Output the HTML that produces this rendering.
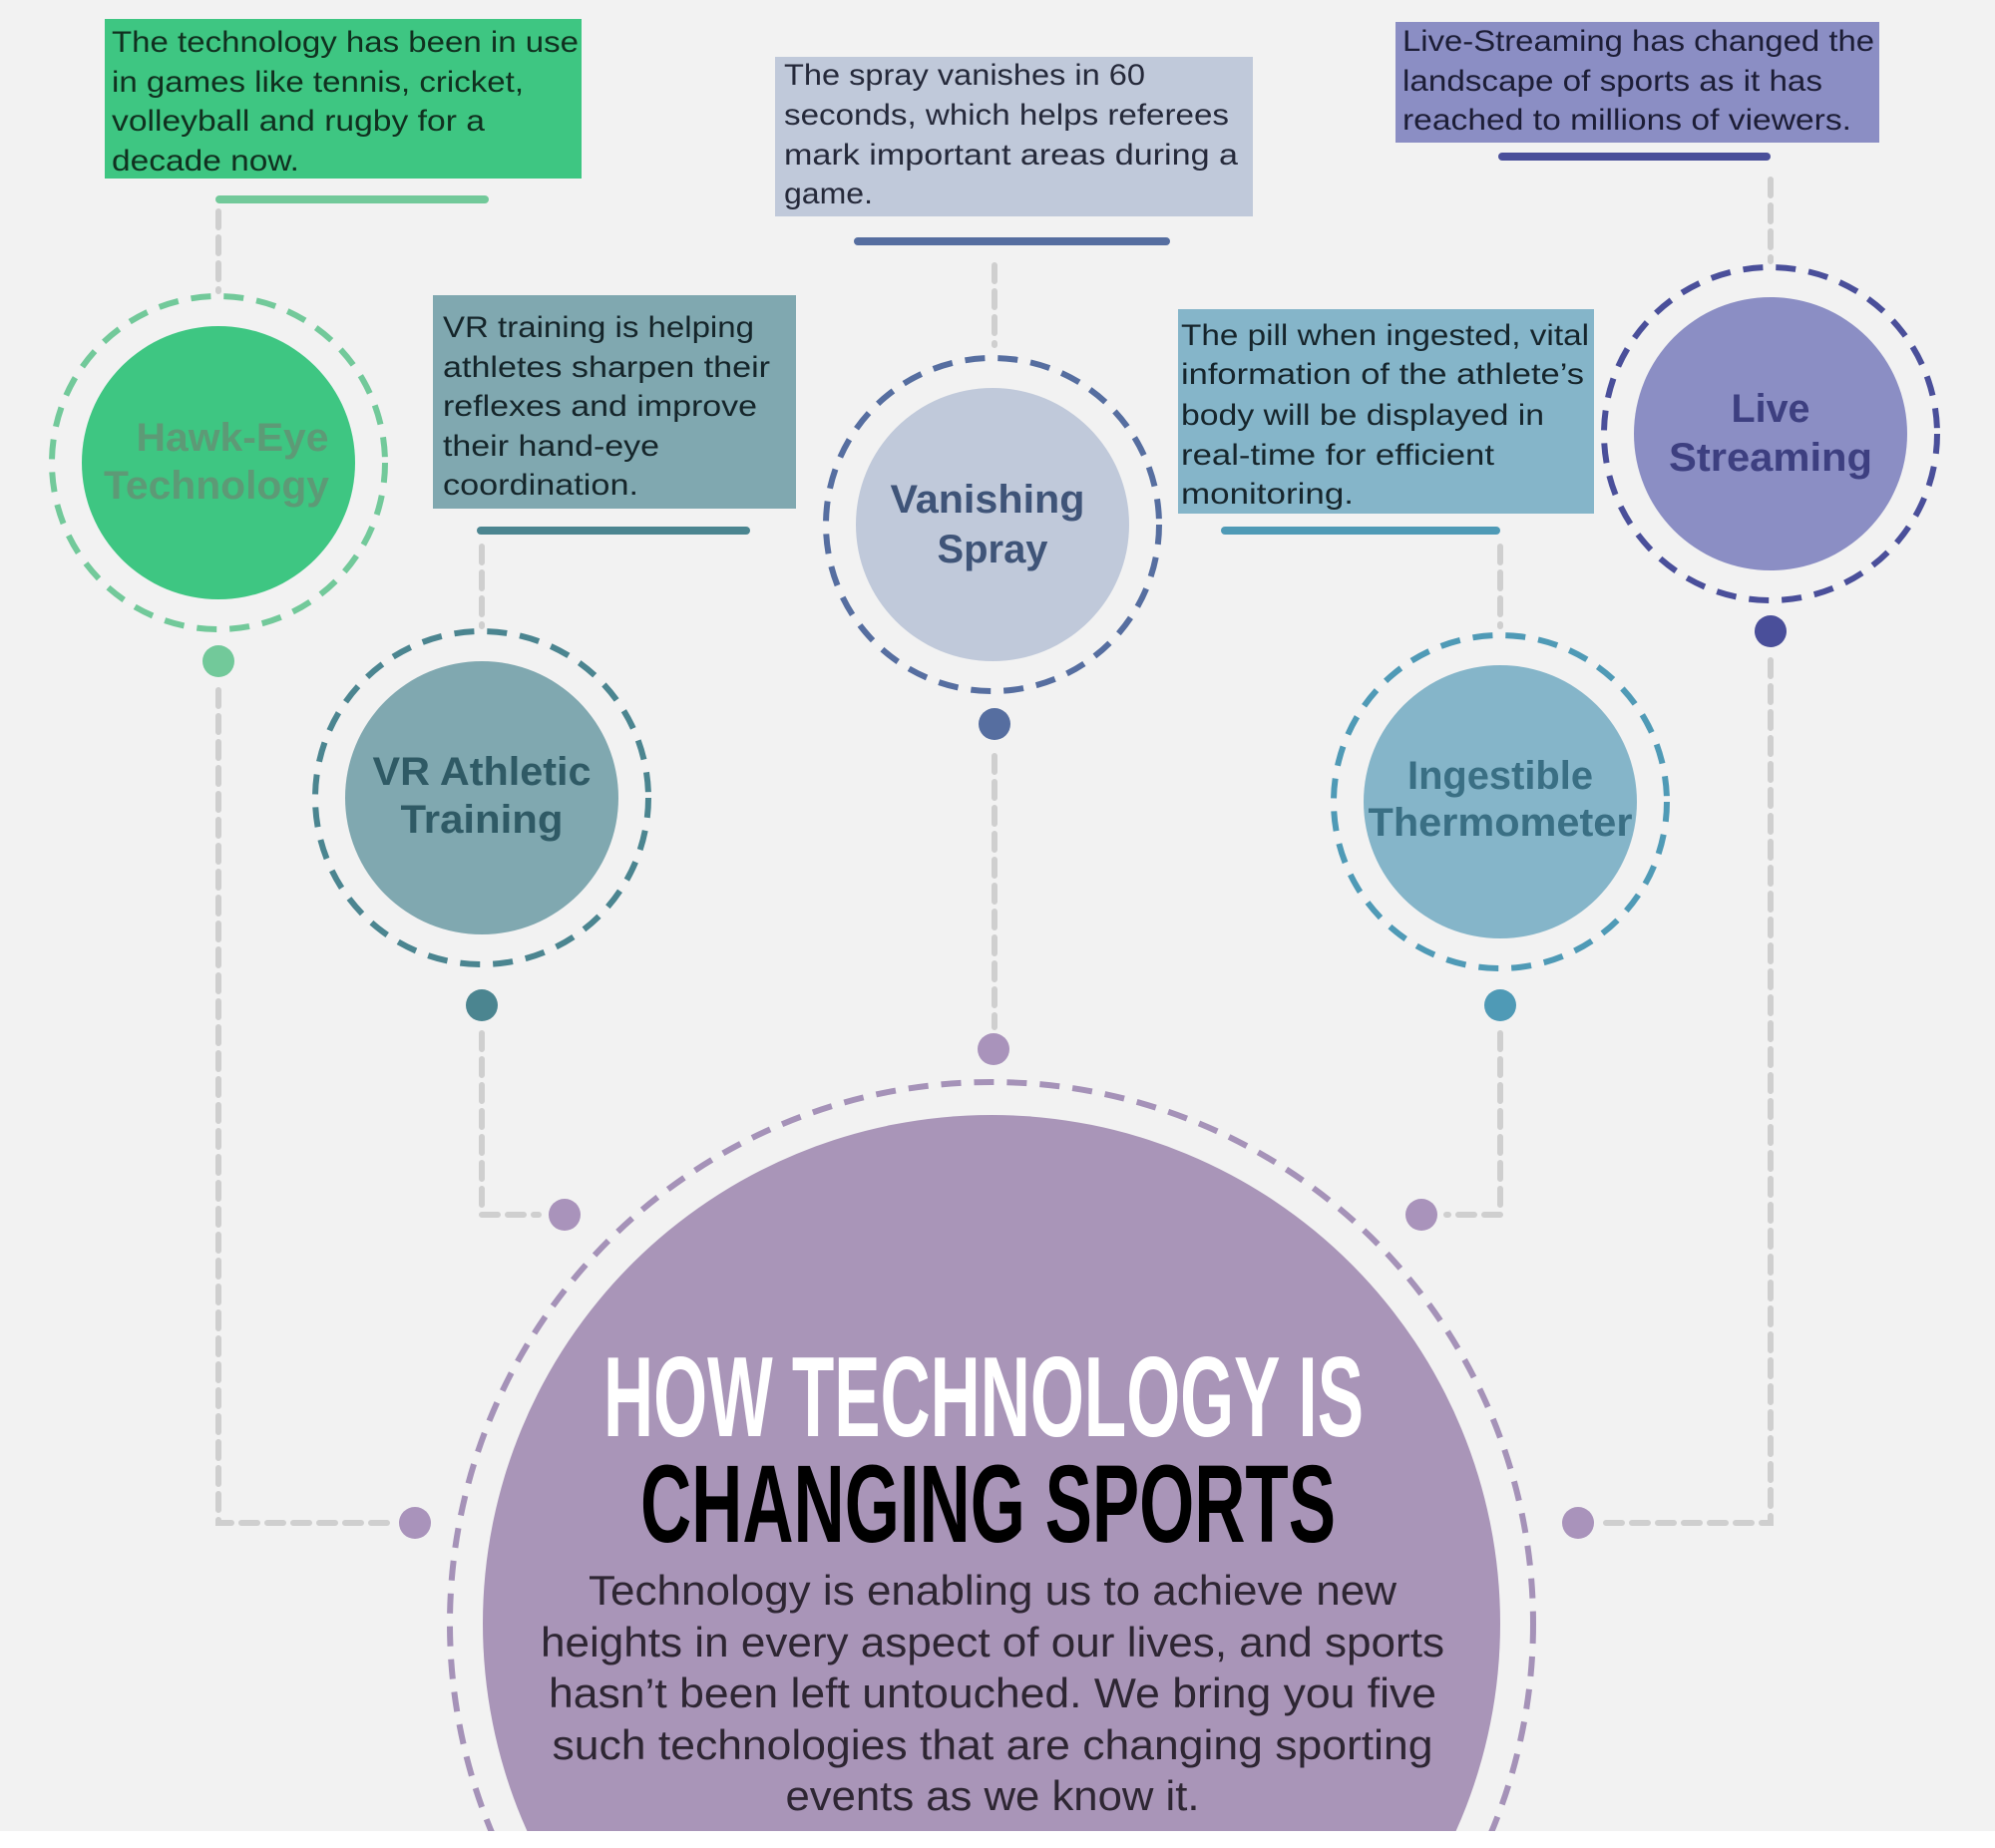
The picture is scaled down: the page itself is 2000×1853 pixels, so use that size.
<!DOCTYPE html>
<html><head><meta charset="utf-8"><style>
html,body{margin:0;padding:0;background:#f2f2f2;width:2000px;height:1853px;overflow:hidden}
svg{display:block}
text{font-family:"Liberation Sans",sans-serif}
</style></head><body>
<svg width="2000" height="1853" viewBox="0 0 2000 1853" xmlns="http://www.w3.org/2000/svg">
<rect width="2000" height="1853" fill="#f2f2f2"/>

<g stroke="#cfcfcf" stroke-width="6" fill="none" stroke-dasharray="16 10" stroke-linecap="round">
<path d="M219 212 V292"/>
<path d="M219 692 V1527 H390"/>
<path d="M483 548 V628"/>
<path d="M483 1036 V1218 H540"/>
<path d="M997 266 V346"/>
<path d="M997 758 V1030"/>
<path d="M1504 548 V628"/>
<path d="M1504 1036 V1218 H1450"/>
<path d="M1775 180 V262"/>
<path d="M1775 662 V1527 H1608"/>
</g>

<circle cx="994" cy="1628" r="510" fill="#a995b8"/>
<circle cx="994" cy="1628" r="543" fill="none" stroke="#a592b8" stroke-width="6" stroke-dasharray="20 13"/>
<rect y="1836" width="2000" height="17" fill="#ffffff"/>
<g fill="#a993bb">
<circle cx="996" cy="1052" r="16"/>
<circle cx="566" cy="1218" r="16"/>
<circle cx="1425" cy="1218" r="16"/>
<circle cx="416" cy="1527" r="16"/>
<circle cx="1582" cy="1527" r="16"/>
</g>

<rect x="105" y="19" width="478" height="160" fill="#3ec682"/>
<rect x="216" y="196" width="274" height="8" rx="4" fill="#72c99a"/>
<circle cx="219" cy="464" r="137" fill="#3ec682"/>
<circle cx="219" cy="464" r="167" fill="none" stroke="#72c99a" stroke-width="6" stroke-dasharray="20 13"/>
<circle cx="219" cy="663" r="16" fill="#72c99a"/>
<g font-size="30" fill="#10301f">
<text x="112" y="52" textLength="468" lengthAdjust="spacingAndGlyphs">The technology has been in use</text>
<text x="112" y="92" textLength="413" lengthAdjust="spacingAndGlyphs">in games like tennis, cricket,</text>
<text x="112" y="131" textLength="374" lengthAdjust="spacingAndGlyphs">volleyball and rugby for a</text>
<text x="112" y="171" textLength="188" lengthAdjust="spacingAndGlyphs">decade now.</text>
</g>
<g font-size="40" font-weight="bold" fill="#5d9a76" text-anchor="middle">
<text x="233" y="452" textLength="193" lengthAdjust="spacingAndGlyphs">Hawk-Eye</text>
<text x="217" y="500" textLength="226" lengthAdjust="spacingAndGlyphs">Technology</text>
</g>

<rect x="434" y="296" width="364" height="214" fill="#80a8b0"/>
<rect x="478" y="528" width="274" height="8" rx="4" fill="#4b8590"/>
<circle cx="483" cy="800" r="137" fill="#80a8b0"/>
<circle cx="483" cy="800" r="167" fill="none" stroke="#4b8590" stroke-width="6" stroke-dasharray="20 13"/>
<circle cx="483" cy="1008" r="16" fill="#4b8590"/>
<g font-size="30" fill="#15252a">
<text x="444" y="338" textLength="312" lengthAdjust="spacingAndGlyphs">VR training is helping</text>
<text x="444" y="378" textLength="328" lengthAdjust="spacingAndGlyphs">athletes sharpen their</text>
<text x="444" y="417" textLength="315" lengthAdjust="spacingAndGlyphs">reflexes and improve</text>
<text x="444" y="457" textLength="217" lengthAdjust="spacingAndGlyphs">their hand-eye</text>
<text x="444" y="496" textLength="196" lengthAdjust="spacingAndGlyphs">coordination.</text>
</g>
<g font-size="40" font-weight="bold" fill="#2f5a65" text-anchor="middle">
<text x="483" y="787" textLength="219" lengthAdjust="spacingAndGlyphs">VR Athletic</text>
<text x="483" y="835" textLength="163" lengthAdjust="spacingAndGlyphs">Training</text>
</g>

<rect x="777" y="57" width="479" height="160" fill="#c0c9da"/>
<rect x="856" y="238" width="317" height="8" rx="4" fill="#566ea0"/>
<circle cx="995" cy="526" r="137" fill="#c0c9da"/>
<circle cx="995" cy="526" r="167" fill="none" stroke="#566ea0" stroke-width="6" stroke-dasharray="20 13"/>
<circle cx="997" cy="726" r="16" fill="#566ea0"/>
<g font-size="30" fill="#25293a">
<text x="786" y="85" textLength="362" lengthAdjust="spacingAndGlyphs">The spray vanishes in 60</text>
<text x="786" y="125" textLength="446" lengthAdjust="spacingAndGlyphs">seconds, which helps referees</text>
<text x="786" y="165" textLength="455" lengthAdjust="spacingAndGlyphs">mark important areas during a</text>
<text x="786" y="204" textLength="89" lengthAdjust="spacingAndGlyphs">game.</text>
</g>
<g font-size="40" font-weight="bold" fill="#3f5478" text-anchor="middle">
<text x="990" y="514" textLength="195" lengthAdjust="spacingAndGlyphs">Vanishing</text>
<text x="995" y="564" textLength="111" lengthAdjust="spacingAndGlyphs">Spray</text>
</g>

<rect x="1181" y="310" width="417" height="205" fill="#85b5c9"/>
<rect x="1224" y="528" width="280" height="8" rx="4" fill="#4f9ab6"/>
<circle cx="1504" cy="804" r="137" fill="#85b5c9"/>
<circle cx="1504" cy="804" r="167" fill="none" stroke="#4f9ab6" stroke-width="6" stroke-dasharray="20 13"/>
<circle cx="1504" cy="1008" r="16" fill="#4f9ab6"/>
<g font-size="30" fill="#16252c">
<text x="1184" y="346" textLength="409" lengthAdjust="spacingAndGlyphs">The pill when ingested, vital</text>
<text x="1184" y="385" textLength="404" lengthAdjust="spacingAndGlyphs">information of the athlete’s</text>
<text x="1184" y="426" textLength="364" lengthAdjust="spacingAndGlyphs">body will be displayed in</text>
<text x="1184" y="466" textLength="314" lengthAdjust="spacingAndGlyphs">real-time for efficient</text>
<text x="1184" y="505" textLength="173" lengthAdjust="spacingAndGlyphs">monitoring.</text>
</g>
<g font-size="40" font-weight="bold" fill="#3a6f84" text-anchor="middle">
<text x="1504" y="791" textLength="186" lengthAdjust="spacingAndGlyphs">Ingestible</text>
<text x="1504" y="838" textLength="265" lengthAdjust="spacingAndGlyphs">Thermometer</text>
</g>

<rect x="1399" y="22" width="485" height="121" fill="#8b8ec4"/>
<rect x="1502" y="153" width="273" height="8" rx="4" fill="#4a4f9a"/>
<circle cx="1775" cy="435" r="137" fill="#8b8ec4"/>
<circle cx="1775" cy="435" r="167" fill="none" stroke="#4a4f9a" stroke-width="6" stroke-dasharray="20 13"/>
<circle cx="1775" cy="633" r="16" fill="#4a4f9a"/>
<g font-size="30" fill="#1c1d36">
<text x="1406" y="51" textLength="473" lengthAdjust="spacingAndGlyphs">Live-Streaming has changed the</text>
<text x="1406" y="91" textLength="421" lengthAdjust="spacingAndGlyphs">landscape of sports as it has</text>
<text x="1406" y="130" textLength="450" lengthAdjust="spacingAndGlyphs">reached to millions of viewers.</text>
</g>
<g font-size="40" font-weight="bold" fill="#3d3f80" text-anchor="middle">
<text x="1775" y="423" textLength="79" lengthAdjust="spacingAndGlyphs">Live</text>
<text x="1775" y="472" textLength="204" lengthAdjust="spacingAndGlyphs">Streaming</text>
</g>

<text x="605" y="1440" font-size="114" font-weight="bold" fill="#ffffff" textLength="762" lengthAdjust="spacingAndGlyphs">HOW TECHNOLOGY IS</text>
<text x="642" y="1546" font-size="110" font-weight="bold" fill="#000000" textLength="697" lengthAdjust="spacingAndGlyphs">CHANGING SPORTS</text>
<g font-size="42" fill="#2e2633" text-anchor="middle">
<text x="995" y="1609" textLength="810" lengthAdjust="spacingAndGlyphs">Technology is enabling us to achieve new</text>
<text x="995" y="1661" textLength="906" lengthAdjust="spacingAndGlyphs">heights in every aspect of our lives, and sports</text>
<text x="995" y="1712" textLength="890" lengthAdjust="spacingAndGlyphs">hasn’t been left untouched. We bring you five</text>
<text x="995" y="1764" textLength="883" lengthAdjust="spacingAndGlyphs">such technologies that are changing sporting</text>
<text x="995" y="1815" textLength="415" lengthAdjust="spacingAndGlyphs">events as we know it.</text>
</g>
</svg>
</body></html>
